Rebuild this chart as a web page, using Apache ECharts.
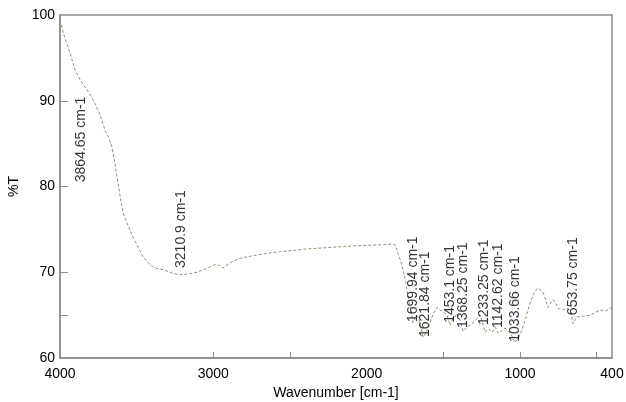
<!DOCTYPE html>
<html>
<head>
<meta charset="utf-8">
<script src="https://cdn.jsdelivr.net/npm/echarts@6/dist/echarts.min.js"></script>
<style>
  html, body { margin: 0; padding: 0; background: #fff; }
  #chart { width: 626px; height: 402px; }
</style>
</head>
<body>
<div id="chart"></div>
<script>
  // spectrum (wavenumber, %T)
  var wavenumbers = [4000, 3970, 3935, 3902, 3870, 3837, 3805, 3772, 3740, 3707, 3680, 3661, 3640, 3622,
    3589, 3555, 3524, 3490, 3459, 3425, 3393, 3360, 3328, 3270, 3217, 3160, 3107, 3050, 2989, 2960, 2937,
    2890, 2830, 2780, 2720, 2650, 2570, 2500, 2400, 2239, 2050, 1900, 1828, 1810, 1796, 1780, 1763, 1745,
    1730, 1712, 1698, 1680, 1665, 1645, 1633, 1615, 1600, 1587, 1565, 1541, 1522, 1500, 1475, 1457, 1440,
    1425, 1411, 1390, 1372, 1345, 1306, 1280, 1261, 1245, 1228, 1205, 1183, 1160, 1143, 1120, 1098, 1070,
    1050, 1033, 1010, 987, 960, 935, 910, 889, 870, 850, 835, 817, 800, 785, 770, 752, 720, 693, 670, 654,
    630, 609, 580, 543, 510, 478, 440, 400];
  var transmittance = [99.4, 97.4, 95.6, 93.6, 92.5, 91.6, 90.8, 89.7, 88.4, 86.6, 85.6, 84.6, 82.5, 80.4,
    76.9, 75.4, 74.1, 72.9, 71.8, 71.1, 70.6, 70.4, 70.3, 69.9, 69.7, 69.8, 70.0, 70.4, 70.9, 70.8, 70.5,
    71.1, 71.6, 71.8, 72.0, 72.2, 72.4, 72.5, 72.7, 72.9, 73.1, 73.2, 73.3, 73.1, 72.2, 71.4, 70.3, 68.8,
    67.1, 65.6, 64.1, 64.9, 64.8, 63.6, 62.4, 62.9, 63.4, 63.6, 65.2, 65.9, 65.6, 65.4, 65.0, 63.8, 64.5,
    64.7, 65.2, 64.4, 63.1, 63.6, 64.1, 64.6, 65.0, 64.2, 63.0, 63.4, 63.0, 63.6, 62.9, 63.2, 63.5, 63.0,
    62.5, 61.8, 62.3, 63.3, 64.8, 66.4, 67.5, 68.1, 68.0, 67.7, 66.9, 65.9, 66.4, 66.8, 66.5, 65.8, 65.6,
    65.8, 65.4, 64.0, 64.8, 64.8, 64.9, 65.0, 65.3, 65.6, 65.5, 65.9];

  // peak annotations: label text, wavenumber, %T where the text starts
  var peakLabels = ['3864.65 cm-1', '3210.9 cm-1', '1699.94 cm-1', '1621.84 cm-1', '1453.1 cm-1',
    '1368.25 cm-1', '1233.25 cm-1', '1142.62 cm-1', '1033.66 cm-1', '653.75 cm-1'];
  var peakX = [3864.65, 3210.9, 1699.94, 1621.84, 1453.1, 1368.25, 1233.25, 1142.62, 1033.66, 653.75];
  var peakY = [80.5, 70.5, 64.2, 62.45, 64.1, 63.5, 63.85, 63.5, 61.9, 65.0];

  var xLabelValues = [4000, 3000, 2000, 1000, 400];
  var xTickValues = [3000, 2500, 1500, 1000, 500];
  var yTickValues = [90, 80, 70, 65];

  var chart = echarts.init(document.getElementById('chart'));

  var spectrum = wavenumbers.map(function (w, i) { return [w, transmittance[i]]; });
  var peaks = peakX.map(function (w, i) { return { value: [w, peakY[i]], name: peakLabels[i] }; });

  var font = 'Liberation Sans, Arial, sans-serif';

  chart.setOption({
    animation: false,
    grid: {
      left: 60,
      right: 14,
      top: 15,
      bottom: 44,
      outerBoundsMode: 'none',
      show: true,
      borderColor: '#8c8c8c',
      borderWidth: 1.5
    },
    xAxis: {
      type: 'value',
      inverse: true,
      min: 400,
      max: 4000,
      name: 'Wavenumber [cm-1]',
      nameLocation: 'middle',
      nameGap: 27,
      nameTextStyle: { fontFamily: font, fontSize: 14, color: '#000' },
      axisLine: { lineStyle: { color: '#8c8c8c', width: 1.5 } },
      axisTick: { inside: true, length: 6, customValues: xTickValues, lineStyle: { color: '#8c8c8c' } },
      axisLabel: {
        customValues: xLabelValues,
        formatter: function (v) { return String(v); },
        margin: 9,
        fontFamily: font,
        fontSize: 14,
        color: '#000'
      },
      splitLine: { show: false }
    },
    yAxis: {
      type: 'value',
      min: 60,
      max: 100,
      interval: 10,
      name: '%T',
      nameLocation: 'middle',
      nameGap: 30,
      nameTextStyle: { fontFamily: font, fontSize: 14, color: '#000' },
      axisLine: { show: true, lineStyle: { color: '#8c8c8c', width: 1.5 } },
      axisTick: { inside: true, length: 8, customValues: yTickValues, lineStyle: { color: '#8c8c8c' } },
      axisLabel: { margin: 5, fontFamily: font, fontSize: 14, color: '#000' },
      splitLine: { show: false }
    },
    series: [
      {
        type: 'line',
        data: spectrum,
        symbol: 'none',
        lineStyle: { color: '#8f8f72', width: 1, type: [3, 2] },
        z: 2
      },
      {
        type: 'scatter',
        data: peaks,
        symbolSize: 0,
        silent: true,
        label: {
          show: true,
          formatter: '{b}',
          position: 'inside',
          rotate: 90,
          align: 'left',
          verticalAlign: 'middle',
          fontFamily: font,
          fontSize: 14,
          color: '#000'
        },
        z: 3
      }
    ]
  });
</script>
</body>
</html>
